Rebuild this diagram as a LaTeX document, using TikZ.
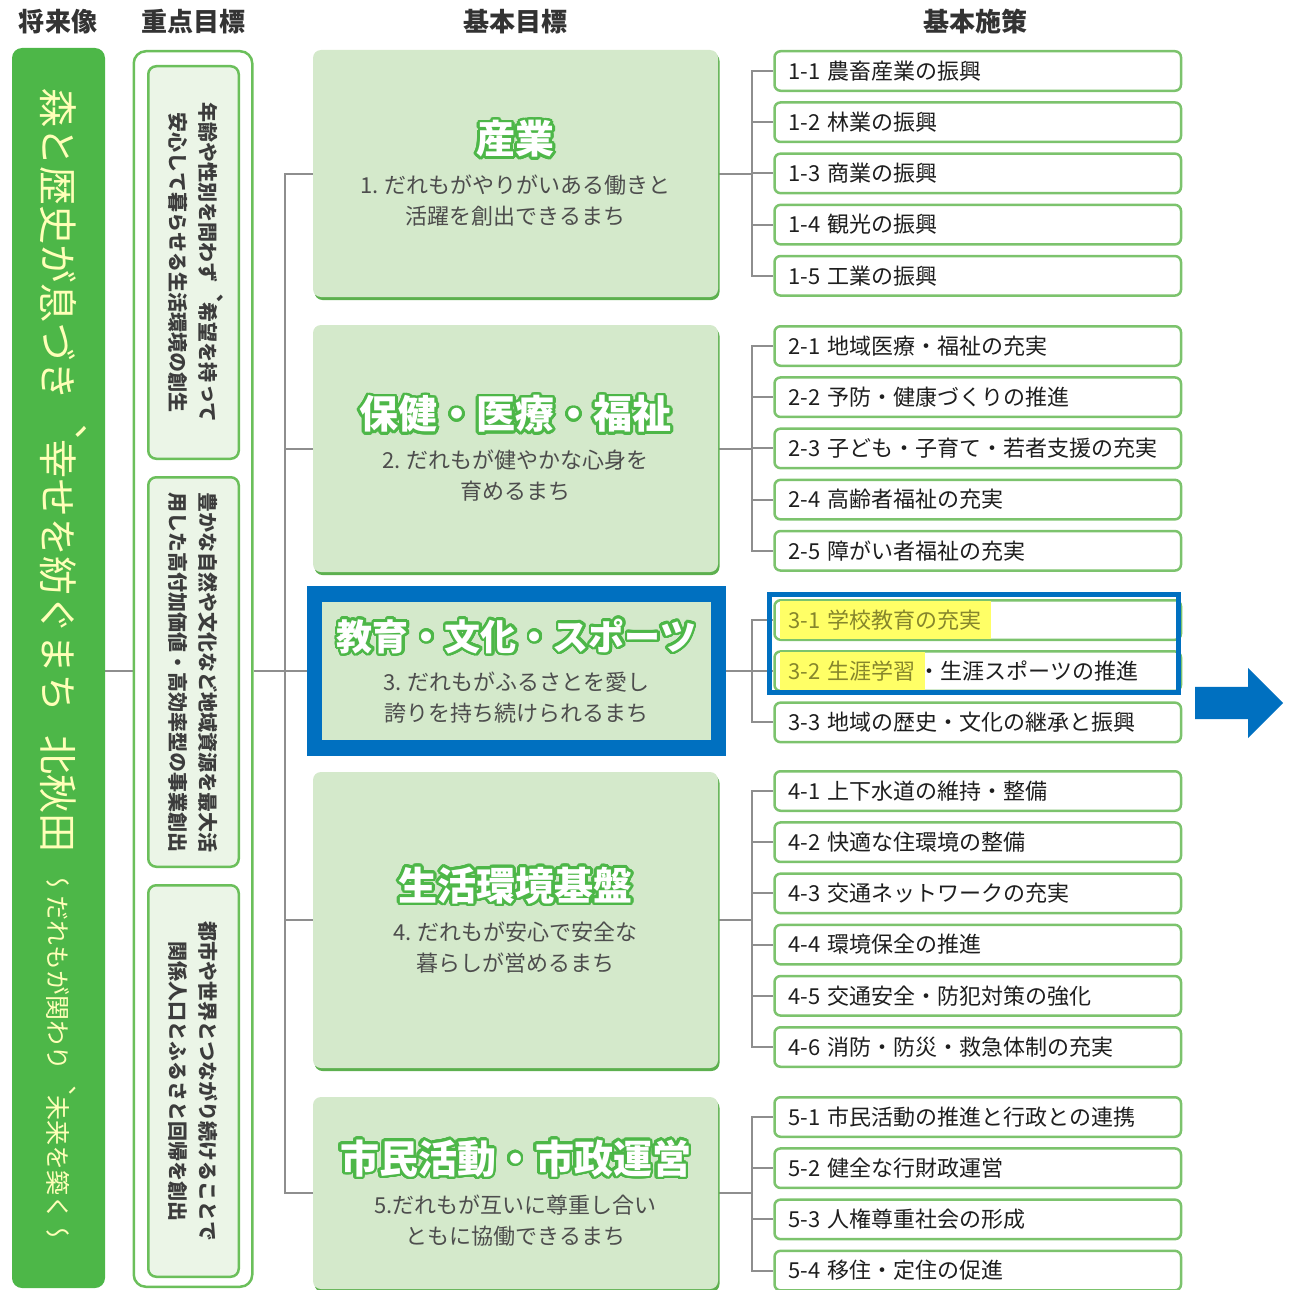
\documentclass[tikz,border=0pt]{standalone}
\usepackage{fontspec}
\setmainfont{Noto Sans CJK JP}
\newfontfamily\vjp[Vertical=RotatedGlyphs]{Noto Sans CJK JP}
\usepackage[copies]{contour}
\contourlength{2.6pt}
\contournumber{32}
\usetikzlibrary{shadows,shapes.arrows,backgrounds}

\definecolor{visgreen}{HTML}{4DB748}
\definecolor{motto}{HTML}{FFFFB8}
\definecolor{focusfill}{HTML}{EBF5E7}
\definecolor{focusline}{HTML}{6BBF5B}
\definecolor{goalfill}{HTML}{D4E9CB}
\definecolor{shadowgreen}{HTML}{5DB04F}
\definecolor{polline}{HTML}{7CC36D}
\definecolor{conngray}{HTML}{8E8E8E}
\definecolor{hlblue}{HTML}{0070C0}
\definecolor{hlyellow}{HTML}{FFFF66}
\definecolor{hltext}{HTML}{86862C}
\definecolor{headtext}{HTML}{333333}
\definecolor{subgray}{HTML}{4D4D4D}
\definecolor{poltext}{HTML}{1E1E1E}
\definecolor{focustext}{HTML}{3C3C3C}

\newcommand{\goaltitle}[2][39]{{\fontsize{#1}{44}\selectfont\bfseries\color{white}\contour{visgreen}{#2}}}
\newcommand{\marker}[1]{{\setlength{\fboxsep}{9pt}\hspace*{-9pt}\colorbox{hlyellow}{\color{hltext}#1}\hspace{-6pt}}}
\newcommand{\vcomma}{\smash{\raisebox{0.3em}{、}}}

\begin{document}
\begin{tikzpicture}[x=1pt,y=-1pt]
\tikzstyle{head} = [font=\fontsize{26}{28}\selectfont\bfseries, text=headtext, inner sep=0]
\tikzstyle{conn} = [draw=conngray, line width=2pt]
\tikzstyle{focusbox} = [rotate=-90, draw=focusline, fill=focusfill, line width=2.5pt, rounded corners=8pt, minimum height=90.5pt, align=center, inner sep=0, text=focustext, font=\vjp\bfseries\fontsize{20}{30}\selectfont]
\tikzstyle{goalbox} = [fill=goalfill, rounded corners=8pt, minimum width=405pt, align=center, text=subgray, font=\fontsize{22}{31}\selectfont]
\tikzstyle{goal} = [goalbox, drop shadow={shadow xshift=1.5pt, shadow yshift=-3pt, fill=shadowgreen, opacity=1}]
\tikzstyle{pol} = [draw=polline, fill=white, line width=2.5pt, rounded corners=6pt, minimum height=39.5pt, text width=378.5pt, inner xsep=14pt, inner ysep=0, align=left, anchor=west, text=poltext, font=\fontsize{22}{26}\selectfont]

\useasboundingbox (0,0) rectangle (1289,1290);

\node[head] (h1) at (58,22) {将来像};
\node[head] (h2) at (193,22) {重点目標};
\node[head] (h3) at (515,22) {基本目標};
\node[head] (h4) at (975,22) {基本施策};

\node[fill=visgreen, rounded corners=10pt, minimum width=93pt, minimum height=1240pt, inner sep=0] (vision) at (58.5,668) {};
\node[rotate=-90, anchor=west, inner sep=0, text=motto, font=\vjp\fontsize{39}{39}\selectfont] (motto) at (58,88) {森と歴史が息づき\vcomma 幸せを紡ぐまち\hspace{0.6em}北秋田};
\node[rotate=-90, anchor=west, inner sep=0, text=motto, font=\vjp\fontsize{25}{25}\selectfont] (mottosub) at (58,870) {～だれもが関わり\vcomma 未来を築く～};

\node[draw=focusline, line width=2.5pt, rounded corners=12pt, minimum width=118.5pt, minimum height=1235.5pt, inner sep=0] (focus) at (193,669) {};
\node[focusbox, minimum width=392.5pt] (fa) at (193.5,262.5) {年齢や性別を問わず\vcomma 希望を持って\\安心して暮らせる生活環境の創生};
\node[focusbox, minimum width=389.5pt] (fb) at (193.5,672) {豊かな自然や文化など地域資源を最大活\\用した高付加価値・高効率型の事業創出};
\node[focusbox, minimum width=391.5pt] (fc) at (193.5,1081) {都市や世界とつながり続けることで\\関係人口とふるさと回帰を創出};

\node[goal, minimum height=247pt] (g1) at (515.5,173.5) {\goaltitle{産業}\\[9pt]1. だれもがやりがいある働きと\\活躍を創出できるまち};
\node[goal, minimum height=247pt] (g2) at (515.5,448.5) {\goaltitle{保健・医療・福祉}\\[9pt]2. だれもが健やかな心身を\\育めるまち};
\node[goalbox, draw=hlblue, line width=15.5pt, rounded corners=0pt, minimum width=404pt, minimum height=154pt] (g3) at (516.5,671) {\goaltitle[36]{教育・文化・スポーツ}\\[9pt]3. だれもがふるさとを愛し\\誇りを持ち続けられるまち};
\node[goal, minimum height=296pt] (g4) at (515.5,920) {\goaltitle{生活環境基盤}\\[9pt]4. だれもが安心で安全な\\暮らしが営めるまち};
\node[goal, minimum height=192pt] (g5) at (515.5,1193) {\goaltitle{市民活動・市政運営}\\[9pt]5.だれもが互いに尊重し合い\\ともに協働できるまち};

\foreach [count=\k] \t in {1-1 農畜産業の振興, 1-2 林業の振興, 1-3 商業の振興, 1-4 観光の振興, 1-5 工業の振興}
  \node[pol] (p1\k) at (773.25,19.8+51.2*\k) {\t};
\foreach [count=\k] \t in {2-1 地域医療・福祉の充実, 2-2 予防・健康づくりの推進, 2-3 子ども・子育て・若者支援の充実, 2-4 高齢者福祉の充実, 2-5 障がい者福祉の充実}
  \node[pol] (p2\k) at (773.25,294.8+51.2*\k) {\t};
\foreach [count=\k] \t in {{\marker{3-1 学校教育の充実}}, {\marker{3-2 生涯学習}・生涯スポーツの推進}, 3-3 地域の歴史・文化の継承と振興}
  \node[pol] (p3\k) at (773.25,568.8+51.2*\k) {\t};
\foreach [count=\k] \t in {4-1 上下水道の維持・整備, 4-2 快適な住環境の整備, 4-3 交通ネットワークの充実, 4-4 環境保全の推進, 4-5 交通安全・防犯対策の強化, 4-6 消防・防災・救急体制の充実}
  \node[pol] (p4\k) at (773.25,739.8+51.2*\k) {\t};
\foreach [count=\k] \t in {5-1 市民活動の推進と行政との連携, 5-2 健全な行財政運営, 5-3 人権尊重社会の形成, 5-4 移住・定住の促進}
  \node[pol] (p5\k) at (773.25,1065.8+51.2*\k) {\t};

\node[draw=hlblue, line width=5pt, minimum width=409pt, minimum height=98pt, inner sep=0] (pick) at (974,643.5) {};
\node[single arrow, fill=hlblue, minimum height=88pt, single arrow head extend=19pt, inner sep=16pt, anchor=tail] (next) at (1195,703) {};

\begin{scope}[on background layer]
\draw[conn] (vision.east |- g3.west) -- (focus.west |- g3.west);
\draw[conn] (focus.east |- g3.west) -- (g3.west);
\draw[conn] (g1.west) -- ++(-28,0) |- (g5.west);
\draw[conn] (g2.west) -- ++(-28,0);
\draw[conn] (g4.west) -- ++(-28,0);
\foreach \g/\n in {1/5,2/5,3/3,4/6,5/4}{
  \coordinate (bus\g) at ([xshift=-21pt]p\g1.west);
  \draw[conn] (p\g1.west) -- (bus\g) |- (p\g\n.west);
  \draw[conn] (g\g.east) -- (g\g.east -| bus\g);
  \foreach \k in {2,...,\n}
    \draw[conn] (p\g\k.west) -- (p\g\k.west -| bus\g);
}
\end{scope}
\end{tikzpicture}
\end{document}
